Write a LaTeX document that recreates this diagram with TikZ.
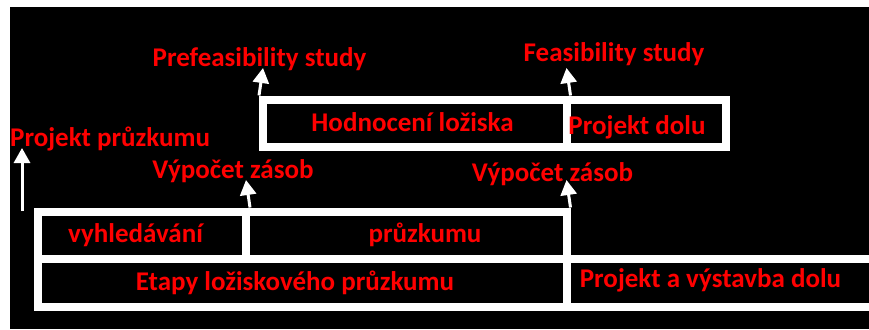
\documentclass[tikz,border=0pt]{standalone}
\usepackage{fontspec}
\setmainfont{Carlito}
\usetikzlibrary{arrows.meta}

\begin{document}
\begin{tikzpicture}[x=1pt, y=-1pt,
  box/.style={draw=white, line width=8pt, inner sep=0pt},
  lbl/.style={text=red, font=\fontsize{27}{32}\selectfont\bfseries, inner sep=0pt, anchor=base},
  up/.style={draw=white, line width=3pt, -{Triangle[width=16pt,length=15pt]}}]
  \useasboundingbox (0,0) rectangle (869,329);
  \clip (0,0) rectangle (869,329);
  \fill[black] (10,7) rectangle (869,329);

  % lower row
  \node [box, minimum width=208pt, minimum height=47.5pt] (vyh) at (142,235.25) {};
  \node [box, minimum width=320.5pt, minimum height=47.5pt] (pru) at (406.25,235.25) {};
  \node [box, minimum width=528.5pt, minimum height=48pt] (eta) at (302.25,283) {};
  \node [box, minimum width=353.5pt, minimum height=48pt] (vys) at (743.25,283) {};
  % upper row
  \node [box, minimum width=303.5pt, minimum height=47.5pt] (hod) at (414.75,123.25) {};
  \node [box, minimum width=159.5pt, minimum height=47.5pt] (dol) at (646.25,123.25) {};

  \node [lbl] (tvyh) at (135.5,242) {vyhledávání};
  \node [lbl] (tpru) at (425,242.5) {průzkumu};
  \node [lbl] (teta) at (295,290) {Etapy ložiskového průzkumu};
  \node [lbl] (tvys) at (710.5,287) {Projekt a výstavba dolu};
  \node [lbl] (thod) at (412.5,131) {Hodnocení ložiska};
  \node [lbl] (tdol) at (637,134) {Projekt dolu};

  \node [lbl, anchor=base west] (ppr) at (10,146.5) {Projekt průzkumu};
  \node [lbl] (vyp1) at (233,178) {Výpočet zásob};
  \node [lbl] (vyp2) at (552.5,181) {Výpočet zásob};
  \node [lbl] (pre) at (259.5,66.5) {Prefeasibility study};
  \node [lbl] (fea) at (614,62) {Feasibility study};

  \coordinate (pstart) at (22,211);
  \coordinate (ptip) at (22,148);
  \coordinate (vtip1) at (246,180);
  \coordinate (vtip2) at (566.5,180);
  \coordinate (ftip1) at (263,68);
  \coordinate (ftip2) at (566.5,68);
  \foreach \s/\t in {pstart/ptip, vyh.north east/vtip1, pru.north east/vtip2, hod.north west/ftip1, hod.north east/ftip2}
    \draw [up] (\s) -- (\t);
\end{tikzpicture}
\end{document}
